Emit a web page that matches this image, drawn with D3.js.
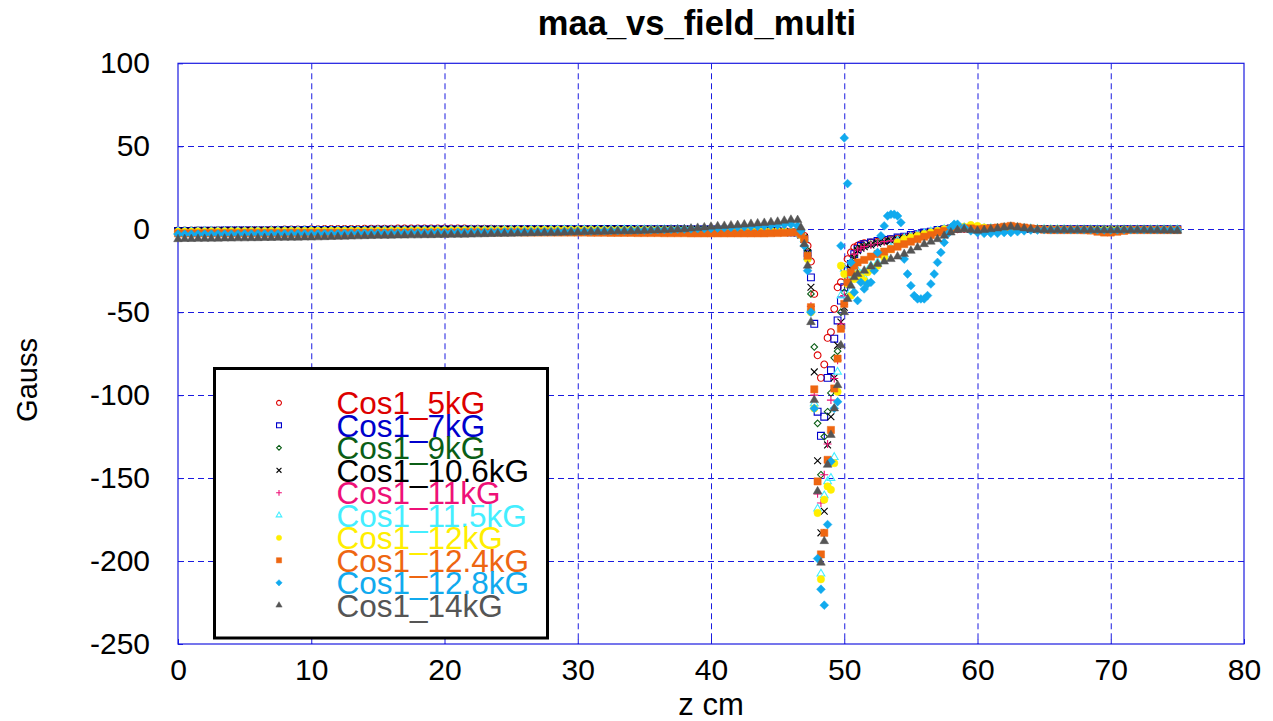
<!DOCTYPE html>
<html>
<head>
<meta charset="utf-8">
<script src="https://cdn.jsdelivr.net/npm/d3@7"></script>
<style>
  body { margin: 0; background: #fff; }
  text { font-family: "Liberation Sans", Arial, sans-serif; }
</style>
</head>
<body>
<svg id="chart" width="1273" height="721"></svg>
<script>
// axis ticks
const xTicks = [0, 10, 20, 30, 40, 50, 60, 70, 80];
const yTicks = [100, 50, 0, -50, -100, -150, -200, -250];

// z positions (cm) of the flat part and of the tail
const zFlat = [0,0.5,1,1.5,2,2.5,3,3.5,4,4.5,5,5.5,6,6.5,7,7.5,8,8.5,9,9.5,10,
  10.5,11,11.5,12,12.5,13,13.5,14,14.5,15,15.5,16,16.5,17,17.5,18,18.5,19,19.5,20,
  20.5,21,21.5,22,22.5,23,23.5,24,24.5,25,25.5,26,26.5,27,27.5,28,28.5,29,29.5,30,
  30.5,31,31.5,32,32.5,33,33.5,34,34.5,35,
  35.5,36,36.5,37,37.5,38,38.5,39,39.5,40,
  40.5,41,41.5,42,42.5,43,43.5,44,
  44.5,45,45.5,46];
const zTail = [59,59.5,60,60.5,61,61.5,62,62.5,63,63.5,64,64.5,65,65.5,66,66.5,67,67.5,
  68,68.5,69,69.5,70,70.5,71,71.5,72,72.5,73,73.5,74,74.5,75];

// Cos1_5kG
const cos5Flat = [-0.8,-0.8,-0.8,-0.7,-0.7,-0.7,-0.6,-0.6,-0.6,-0.5,-0.5,-0.5,-0.4,-0.4,-0.3,-0.3,-0.2,-0.2,-0.1,-0.1,0.0,
  0.0,0.1,0.1,0.1,0.2,0.2,0.2,0.3,0.3,0.3,0.3,0.3,0.4,0.4,0.4,0.4,0.4,0.4,0.4,0.4,
  0.4,0.4,0.4,0.3,0.3,0.3,0.3,0.2,0.2,0.2,0.2,0.1,0.1,0.1,0.1,0.1,0.0,0.0,0.0,0.0,
  0.0,0.1,0.0,0.0,-0.1,0.0,0.0,0.1,0.0,0.0,
  0.0,0.0,-0.1,0.0,0.0,0.0,-0.1,-0.1,0.0,0.0,
  -0.1,-0.2,-0.2,-0.3,-0.3,-0.4,-0.5,-0.6,
  -0.8,-1.0,-1.2,-1.5];
const cos5Dip = [[46.5,-1.8],[46.75,-2.5],[47,-4],[47.25,-10],[47.5,-19.5],[47.75,-39],[48,-76],[48.25,-89.6],
  [48.5,-81.5],[48.75,-65.5],[49,-62],[49.25,-48],[49.5,-35],[49.75,-32],[50,-24],[50.25,-18],[50.5,-14],
  [50.75,-11],[51,-10],[51.25,-9],[51.5,-8.5],[52,-8],[52.5,-7.5],[53,-7],[53.5,-6],[54,-5.5],[54.5,-5],
  [55,-4],[55.5,-3.5],[56,-2.5],[56.5,-2],[57,-1],[57.5,-0.5],[58,0],[58.5,0]];
const cos5Tail = [0.3,0.3,0.2,0.2,0.3,0.5,0.6,0.6,0.5,0.3,0.2,0.1,0,0,0,0,0,0,0,-0.1,-0.1,0,0,0,0,0,0,-0.1,-0.1,-0.1,0,0,0];

// Cos1_7kG
const cos7Flat = [-1.0,-1.0,-1.0,-0.9,-0.9,-0.9,-0.9,-0.8,-0.8,-0.8,-0.8,-0.7,-0.7,-0.7,-0.7,-0.6,-0.6,-0.6,-0.6,-0.5,-0.5,
  -0.5,-0.5,-0.5,-0.4,-0.4,-0.4,-0.4,-0.4,-0.3,-0.3,-0.3,-0.3,-0.3,-0.3,-0.3,-0.2,-0.2,-0.2,-0.2,-0.2,
  -0.2,-0.2,-0.2,-0.1,-0.1,-0.1,-0.1,-0.1,-0.1,-0.1,0.0,0.0,0.0,0.0,0.0,0.0,0.0,0.0,0.0,0.0,
  0.0,0.0,0.1,0.1,0.1,0.1,0.1,0.1,0.0,0.0,
  0.0,0.0,0.0,0.0,0.0,-0.1,-0.1,-0.1,-0.2,-0.2,
  -0.3,-0.3,-0.4,-0.4,-0.5,-0.6,-0.7,-0.8,
  -1.0,-1.2,-1.5,-1.9];
const cos7Dip = [[46.5,-2],[46.75,-3],[47,-6],[47.25,-14.7],[47.5,-29],[47.75,-57],[48,-110],[48.25,-124.5],
  [48.5,-113],[48.75,-89.6],[49,-85],[49.25,-66],[49.5,-55],[49.75,-43],[50,-35],[50.25,-25],[50.5,-21],
  [50.75,-15],[51,-12],[51.25,-10],[51.5,-9],[52,-8],[52.5,-7],[53,-6.5],[53.5,-6],[54,-5],[54.5,-4.5],
  [55,-3.5],[55.5,-3],[56,-2],[56.5,-1.5],[57,-0.5],[57.5,0],[58,0.5],[58.5,0.5]];
const cos7Tail = [0.5,0.4,0.3,0.3,0.4,0.5,0.7,0.7,0.6,0.4,0.2,0.1,0.1,0,0,0,0,0,0,0,0,-0.1,-0.1,-0.1,0,0,0,0,0,0,0,0,0];

// Cos1_9kG
const cos9Flat = [-1.2,-1.2,-1.1,-1.1,-1.1,-1.0,-1.0,-1.0,-1.0,-0.9,-0.9,-0.9,-0.8,-0.8,-0.8,-0.8,-0.7,-0.7,-0.7,-0.6,-0.6,
  -0.6,-0.6,-0.5,-0.5,-0.5,-0.5,-0.4,-0.4,-0.4,-0.4,-0.4,-0.3,-0.3,-0.3,-0.3,-0.3,-0.2,-0.2,-0.2,-0.2,
  -0.2,-0.2,-0.2,-0.2,-0.1,-0.1,-0.1,-0.1,-0.1,-0.1,-0.1,-0.1,0.0,0.0,0.0,0.0,0.0,0.0,0.0,0.0,
  0.0,0.0,0.1,0.0,0.0,0.0,0.1,0.0,0.0,0.0,
  0.0,-0.1,0.0,-0.1,-0.1,-0.1,-0.1,-0.2,-0.2,-0.2,
  -0.3,-0.3,-0.4,-0.5,-0.5,-0.6,-0.7,-0.9,
  -1.1,-1.3,-1.6,-2.0];
const cos9Dip = [[46.5,-2],[46.75,-3],[47,-5],[47.25,-13],[47.5,-39],[47.75,-71],[48,-117],[48.25,-148],
  [48.5,-125],[48.75,-110],[49,-98.7],[49.25,-77.5],[49.5,-73.5],[49.75,-50],[50,-38],[50.25,-30],[50.5,-22],
  [50.75,-16],[51,-12],[51.25,-11],[51.5,-10],[52,-9],[52.5,-8],[53,-7],[53.5,-6.5],[54,-6],[54.5,-5],
  [55,-4.5],[55.5,-3.5],[56,-2.5],[56.5,-2],[57,-1],[57.5,-0.5],[58,0],[58.5,0.5]];
const cos9Tail = [0.3,0.2,0.2,0.1,0.2,0.4,0.6,0.8,0.6,0.4,0.2,0,0,0,-0.1,-0.1,-0.1,-0.1,-0.1,-0.1,-0.2,-0.2,-0.2,-0.2,-0.1,-0.1,-0.1,-0.1,-0.1,-0.1,-0.1,-0.1,-0.1];

// Cos1_10.6kG
const cos106Flat = [-1.1,-1.1,-1.1,-1.0,-1.0,-1.0,-1.0,-0.9,-0.9,-0.9,-0.9,-0.8,-0.8,-0.8,-0.8,-0.7,-0.7,-0.7,-0.7,-0.6,-0.6,
  -0.6,-0.6,-0.6,-0.5,-0.5,-0.5,-0.5,-0.5,-0.4,-0.4,-0.4,-0.4,-0.4,-0.3,-0.3,-0.3,-0.3,-0.3,-0.3,-0.2,
  -0.2,-0.2,-0.2,-0.2,-0.2,-0.1,-0.1,-0.1,-0.1,-0.1,-0.1,-0.1,-0.1,0.0,0.0,0.0,0.0,0.0,0.0,0.0,
  0.0,0.0,0.0,0.1,0.1,0.1,0.0,0.0,0.0,0.0,
  0.0,0.0,0.0,-0.1,-0.1,-0.1,-0.1,-0.2,-0.2,-0.2,
  -0.3,-0.3,-0.4,-0.5,-0.6,-0.6,-0.8,-0.9,
  -1.1,-1.4,-1.7,-2.1];
const cos106Dip = [[46.5,-2],[46.75,-3.5],[47,-5],[47.25,-14],[47.5,-35],[47.75,-86],[48,-139.5],[48.25,-183],
  [48.5,-170],[48.75,-130],[49,-113],[49.25,-89.6],[49.5,-70],[49.75,-56],[50,-47],[50.25,-33],[50.5,-24],
  [50.75,-17],[51,-13],[51.25,-11.5],[51.5,-10.5],[52,-9.5],[52.5,-8.5],[53,-7.5],[53.5,-7],[54,-6],[54.5,-5.5],
  [55,-4.5],[55.5,-4],[56,-3],[56.5,-2],[57,-1.5],[57.5,-0.5],[58,0],[58.5,0.5]];
const cos106Tail = [0.4,0.2,0,0,0.2,0.5,0.8,1,0.8,0.5,0.2,0,-0.1,-0.1,-0.2,-0.2,-0.2,-0.2,-0.2,-0.2,-0.3,-0.3,-0.3,-0.3,-0.2,-0.2,-0.2,-0.2,-0.2,-0.2,-0.2,-0.2,-0.3];

// Cos1_11kG
const cos11Flat = [-1.1,-1.1,-1.0,-1.0,-1.0,-1.0,-0.9,-0.9,-0.9,-0.9,-0.8,-0.8,-0.8,-0.8,-0.7,-0.7,-0.7,-0.7,-0.6,-0.6,-0.6,
  -0.6,-0.5,-0.5,-0.5,-0.5,-0.5,-0.4,-0.4,-0.4,-0.4,-0.4,-0.3,-0.3,-0.3,-0.3,-0.3,-0.3,-0.2,-0.2,-0.2,
  -0.2,-0.2,-0.2,-0.2,-0.1,-0.1,-0.1,-0.1,-0.1,-0.1,-0.1,-0.1,-0.1,0.0,0.0,0.0,0.0,0.0,0.0,0.0,
  0.0,0.0,0.0,0.0,0.1,0.0,0.0,0.0,0.0,0.0,
  0.0,0.0,-0.1,-0.1,-0.1,-0.1,-0.1,-0.2,-0.2,-0.2,
  -0.3,-0.3,-0.4,-0.5,-0.5,-0.6,-0.7,-0.9,
  -1.1,-1.3,-1.6,-2.0];
const cos11Dip = [[46.5,-2],[46.75,-3.5],[47,-6],[47.25,-18],[47.5,-46.5],[47.75,-100],[48,-159.5],[48.25,-165],
  [48.5,-148],[48.75,-129.5],[49,-103],[49.25,-90],[49.5,-79],[49.75,-57],[50,-40],[50.25,-28],[50.5,-20],
  [50.75,-15],[51,-12.5],[51.25,-11.5],[51.5,-10.5],[52,-9.5],[52.5,-8.5],[53,-7.5],[53.5,-7],[54,-6],[54.5,-5.5],
  [55,-4.5],[55.5,-4],[56,-3],[56.5,-2],[57,-1.5],[57.5,-0.5],[58,0],[58.5,0.5]];
const cos11Tail = [0.4,0.3,0,0,0.2,0.5,0.8,1,0.8,0.5,0.2,0,-0.1,-0.1,-0.2,-0.2,-0.2,-0.2,-0.2,-0.3,-0.3,-0.3,-0.3,-0.3,-0.2,-0.2,-0.2,-0.2,-0.2,-0.2,-0.2,-0.3,-0.3];

// Cos1_11.5kG
const cos115Flat = [-1.3,-1.3,-1.3,-1.3,-1.2,-1.2,-1.2,-1.2,-1.2,-1.1,-1.1,-1.1,-1.1,-1.1,-1.0,-1.0,-1.0,-1.0,-1.0,-0.9,-0.9,
  -0.9,-0.9,-0.9,-0.9,-0.8,-0.8,-0.8,-0.8,-0.8,-0.7,-0.7,-0.7,-0.7,-0.7,-0.7,-0.6,-0.6,-0.6,-0.6,-0.6,
  -0.6,-0.6,-0.5,-0.5,-0.5,-0.5,-0.5,-0.5,-0.4,-0.4,-0.4,-0.4,-0.4,-0.4,-0.4,-0.3,-0.3,-0.3,-0.3,-0.3,
  -0.3,-0.3,-0.3,-0.3,-0.3,-0.2,-0.2,-0.2,-0.2,-0.2,
  -0.2,-0.2,-0.2,-0.2,-0.2,-0.2,-0.3,-0.3,-0.3,-0.3,
  -0.4,-0.4,-0.5,-0.5,-0.6,-0.7,-0.8,-0.9,
  -1.0,-1.2,-1.5,-1.8];
const cos115Dip = [[46.5,-2],[46.75,-3.5],[47,-6],[47.25,-17],[47.5,-48],[47.75,-105],[48,-168.5],[48.25,-207.7],
  [48.5,-160.5],[48.75,-152],[49,-150],[49.25,-137.4],[49.5,-86],[49.75,-40],[50,-24],[50.25,-30],[50.5,-37],
  [50.75,-28],[51,-25],[51.25,-27],[51.5,-29],[51.75,-25],[52,-22],[52.5,-20],[53,-15],[53.5,-11],[54,-7],
  [54.5,-5.5],[55,-4.5],[55.5,-3.5],[56,-2.5],[56.5,-1.5],[57,-1],[57.5,0],[58,0.5],[58.5,1]];
const cos115Tail = [1,1.5,1,0.5,0.5,0.5,0.8,1,0.8,0.5,0.3,0,0,-0.1,-0.1,-0.1,-0.2,-0.2,-0.2,-0.2,-0.3,-0.3,-0.3,-0.3,-0.2,-0.2,-0.2,-0.2,-0.2,-0.2,-0.2,-0.2,-0.2];

// Cos1_12kG
const cos12Flat = [-1.5,-1.5,-1.5,-1.4,-1.5,-1.4,-1.4,-1.4,-1.3,-1.4,-1.3,-1.3,-1.3,-1.3,-1.2,-1.3,-1.2,-1.2,-1.2,-1.2,-1.1,
  -1.1,-1.1,-1.1,-1.0,-1.1,-1.0,-1.0,-1.0,-1.0,-0.9,-1.0,-0.9,-0.9,-0.9,-0.9,-0.8,-0.9,-0.8,-0.8,-0.8,
  -0.8,-0.8,-0.7,-0.8,-0.7,-0.7,-0.7,-0.7,-0.6,-0.7,-0.6,-0.6,-0.6,-0.6,-0.5,-0.6,-0.5,-0.5,-0.5,-0.5,
  -0.5,-0.4,-0.5,-0.4,-0.4,-0.4,-0.4,-0.3,-0.4,-0.3,
  -0.3,-0.3,-0.3,-0.3,-0.3,-0.3,-0.3,-0.4,-0.4,-0.4,
  -0.5,-0.5,-0.6,-0.6,-0.7,-0.7,-0.8,-0.9,
  -1.0,-1.2,-1.4,-1.7];
const cos12Dip = [[46.5,-2],[46.75,-3.5],[47,-6.5],[47.25,-18],[47.5,-50],[47.75,-108],[48,-171],[48.25,-211],
  [48.5,-163],[48.75,-155],[49,-157],[49.25,-141],[49.5,-98],[49.75,-22],[50,-27],[50.25,-33],[50.5,-40],
  [50.75,-30],[51,-27],[51.25,-29],[51.5,-31],[51.75,-26],[52,-24],[52.25,-24],[52.5,-22],[53,-17],[53.5,-12],
  [54,-8],[54.5,-6],[55,-5],[55.5,-4],[56,-3],[56.5,-2],[57,-1],[57.5,0],[58,0.5],[58.5,1]];
const cos12Tail = [1.5,2.5,2,1,0.5,0.5,0.6,1,1,0.5,0.3,0,0,0,0,-0.1,-0.2,-0.2,-0.2,-0.2,-0.3,-0.3,-0.3,-0.3,-0.2,-0.2,-0.2,-0.2,-0.2,-0.2,-0.2,-0.2,-0.2];

// Cos1_12.4kG
const cos124Flat = [-2.5,-2.5,-2.5,-2.5,-2.4,-2.4,-2.4,-2.4,-2.4,-2.4,-2.3,-2.3,-2.3,-2.3,-2.3,-2.3,-2.3,-2.2,-2.2,-2.2,-2.2,
  -2.2,-2.2,-2.2,-2.2,-2.2,-2.1,-2.1,-2.1,-2.1,-2.1,-2.1,-2.1,-2.1,-2.0,-2.0,-2.0,-2.0,-2.0,-2.0,-2.0,
  -2.0,-2.0,-1.9,-1.9,-1.9,-2.0,-2.0,-2.0,-1.9,-1.9,-1.9,-2.0,-2.0,-2.0,-2.0,-2.0,-2.0,-2.0,-2.0,-2.0,
  -2.0,-2.1,-2.1,-2.1,-2.2,-2.2,-2.2,-2.2,-2.3,-2.3,
  -2.3,-2.3,-2.4,-2.4,-2.4,-2.4,-2.5,-2.5,-2.5,-2.5,
  -2.5,-2.5,-2.5,-2.5,-2.5,-2.5,-2.5,-2.5,
  -2.4,-2.3,-2.2,-2.0];
const cos124Dip = [[46.5,-1.8],[46.75,-3],[47,-6],[47.25,-16],[47.5,-47],[47.75,-96.5],[48,-152],[48.25,-196],
  [48.5,-183],[48.75,-139],[49,-121],[49.25,-96],[49.5,-78],[49.75,-60],[50,-45],[50.25,-32],[50.5,-26],
  [50.75,-22],[51,-20],[51.5,-18.5],[52,-16.5],[52.5,-15],[53,-13.5],[53.5,-12],[54,-10.5],[54.5,-9],
  [55,-7.5],[55.5,-6],[56,-4.5],[56.5,-3.5],[57,-2],[57.5,-1],[58,0],[58.5,0.5]];
const cos124Tail = [0.5,0.5,0,0.3,0.5,1,1.5,2,1.5,1,0.5,0,-0.3,-0.5,-0.5,-0.5,-0.5,-0.5,-0.6,-0.8,-1.5,-2,-2,-1.5,-1,-0.5,-0.5,-0.5,-0.5,-0.5,-0.5,-0.5,-0.5];

// Cos1_12.8kG
const cos128Flat = [-3.0,-3.0,-3.0,-3.0,-2.9,-2.9,-2.9,-2.9,-2.9,-2.9,-2.8,-2.8,-2.8,-2.8,-2.8,-2.8,-2.7,-2.7,-2.7,-2.7,-2.7,
  -2.7,-2.6,-2.6,-2.6,-2.5,-2.5,-2.5,-2.4,-2.4,-2.4,-2.3,-2.3,-2.3,-2.2,-2.2,-2.2,-2.1,-2.1,-2.0,-2.0,
  -2.0,-1.9,-1.9,-1.8,-1.8,-1.8,-1.7,-1.7,-1.6,-1.6,-1.6,-1.5,-1.5,-1.4,-1.4,-1.4,-1.3,-1.3,-1.2,-1.2,
  -1.1,-1.1,-1.0,-0.9,-0.8,-0.8,-0.7,-0.6,-0.6,-0.5,
  -0.4,-0.3,-0.2,-0.1,0.0,0.1,0.2,0.3,0.4,0.5,
  0.7,0.9,1.1,1.3,1.5,1.7,1.8,2.0,
  2.3,2.5,2.8,3.0];
const cos128Dip = [[46.5,2],[46.75,-1],[47,-10],[47.25,-25],[47.5,-50],[47.75,-108],[48,-198.5],[48.25,-217],
  [48.5,-226.6],[48.75,-178],[49,-140],[49.25,-108],[49.5,-104],[49.75,-10],[50,55],[50.25,27.5],[50.5,-20],
  [50.75,-38],[51,-43],[51.25,-32],[51.5,-36],[51.75,-33],[52,-32],[52.25,-25],[52.5,-14],[52.75,-4],[53,2],
  [53.25,8],[53.5,9],[53.75,9],[54,8],[54.25,4],[54.5,-18],[54.75,-27],[55,-34],[55.25,-40],[55.5,-42],
  [55.75,-42],[56,-42],[56.25,-40],[56.5,-33],[56.75,-27],[57,-20],[57.25,-14],[57.5,-8],[57.75,-3],[58,1],
  [58.25,3],[58.5,3]];
const cos128Tail = [1,-1,-2,-2.5,-2.5,-2.5,-2,-2,-1.5,-1,-0.5,-0.5,-0.3,-0.3,-0.3,-0.3,-0.3,-0.3,-0.3,-0.3,-0.4,-0.4,-0.4,-0.4,-0.3,-0.3,-0.3,-0.3,-0.3,-0.3,-0.3,-0.3,-0.3];

// Cos1_14kG
const cos14Flat = [-6.0,-5.9,-5.9,-5.8,-5.8,-5.7,-5.7,-5.6,-5.6,-5.5,-5.5,
  -5.4,-5.4,-5.3,-5.3,-5.2,-5.2,-5.1,-5.1,-5.0,-5.0,
  -4.9,-4.8,-4.7,-4.6,-4.5,-4.4,-4.3,-4.2,-4.1,-4.0,
  -4.0,-3.9,-3.8,-3.8,-3.7,-3.7,-3.6,-3.6,-3.5,-3.5,
  -3.4,-3.3,-3.3,-3.2,-3.1,-3.0,-2.9,-2.8,-2.8,-2.7,
  -2.6,-2.5,-2.4,-2.3,-2.2,-2.2,-2.1,-2.0,-1.9,-1.8,
  -1.7,-1.6,-1.6,-1.5,-1.4,-1.3,-1.2,-1.2,-1.1,-1.0,
  -0.8,-0.7,-0.5,-0.3,-0.2,0.0,
  0.4,0.8,1.1,1.5,
  1.8,2.0,2.3,2.5,
  2.8,3.2,3.5,3.8,
  4.2,4.5,5.1,5.7];
const cos14Dip = [[46.5,5.5],[46.75,1],[47,-9],[47.25,-22],[47.5,-56],[47.75,-103],[48,-158],[48.25,-201],
  [48.5,-188],[48.75,-142],[49,-124],[49.25,-108],[49.5,-94],[49.75,-70],[50,-50],[50.25,-42],[50.5,-34],
  [50.75,-29],[51,-27],[51.5,-25],[52,-22.5],[52.5,-21],[53,-19.5],[53.5,-18],[54,-16.5],[54.5,-15],
  [55,-13],[55.5,-11],[56,-9],[56.5,-7.5],[57,-6],[57.5,-4],[58,-2],[58.5,-0.5]];
const cos14Tail = [0,-0.5,-1,-0.5,0,0.5,1,1.5,1,0.5,0,-0.3,-0.5,-0.5,-0.5,-0.5,-0.5,-0.5,-0.5,-0.5,-0.6,-0.6,-0.6,-0.6,-0.5,-0.5,-0.5,-0.5,-0.6,-0.6,-0.7,-0.8,-1.0];

const seriesNames = ['Cos1_5kG', 'Cos1_7kG', 'Cos1_9kG', 'Cos1_10.6kG', 'Cos1_11kG',
  'Cos1_11.5kG', 'Cos1_12kG', 'Cos1_12.4kG', 'Cos1_12.8kG', 'Cos1_14kG'];
const seriesColors = ['#dd0000', '#0000cc', '#0b5e16', '#000000', '#ee1177',
  '#44eeff', '#ffee00', '#ee6611', '#11aaee', '#555555'];
const seriesFlat = [cos5Flat, cos7Flat, cos9Flat, cos106Flat, cos11Flat, cos115Flat, cos12Flat, cos124Flat, cos128Flat, cos14Flat];
const seriesDip = [cos5Dip, cos7Dip, cos9Dip, cos106Dip, cos11Dip, cos115Dip, cos12Dip, cos124Dip, cos128Dip, cos14Dip];
const seriesTail = [cos5Tail, cos7Tail, cos9Tail, cos106Tail, cos11Tail, cos115Tail, cos12Tail, cos124Tail, cos128Tail, cos14Tail];

// marker look per series
const markers = [
  { shape: 'circle', s: 3.4, fill: false },
  { shape: 'square', s: 3.4, fill: false },
  { shape: 'diamond', s: 3.3, fill: false },
  { shape: 'times', s: 3.4, fill: false },
  { shape: 'plus', s: 4, fill: false },
  { shape: 'triangle', s: 4.5, fill: false },
  { shape: 'circle', s: 3.7, fill: true },
  { shape: 'square', s: 3.6, fill: true },
  { shape: 'diamond', s: 4.4, fill: true },
  { shape: 'triangle', s: 5, fill: true }
];

function markerPath(shape, s) {
  switch (shape) {
    case 'circle': return `M${s},0A${s},${s} 0 1,1 ${-s},0A${s},${s} 0 1,1 ${s},0Z`;
    case 'square': return `M${-s},${-s}H${s}V${s}H${-s}Z`;
    case 'diamond': return `M0,${-s}L${s},0L0,${s}L${-s},0Z`;
    case 'times': return `M${-s},${-s}L${s},${s}M${-s},${s}L${s},${-s}`;
    case 'plus': return `M${-s},0H${s}M0,${-s}V${s}`;
    case 'triangle': return `M0,${-s}L${s * 0.866},${s * 0.5}L${-s * 0.866},${s * 0.5}Z`;
  }
}

const svg = d3.select('#chart');
const x = d3.scaleLinear().domain([0, 80]).range([178, 1244]);
const y = d3.scaleLinear().domain([-250, 100]).range([644, 63.3]);
const gridColor = '#1a1ae0';

svg.append('rect').attr('width', 1273).attr('height', 721).attr('fill', '#fff');

// grid
const grid = svg.append('g').attr('stroke', gridColor).attr('stroke-width', 1).attr('stroke-dasharray', '6,4');
grid.selectAll('.gx').data(xTicks.slice(1, -1)).enter().append('line')
  .attr('x1', d => x(d) + 0.5).attr('x2', d => x(d) + 0.5)
  .attr('y1', y(100)).attr('y2', y(-250));
grid.selectAll('.gy').data(yTicks.slice(1, -1)).enter().append('line')
  .attr('y1', d => Math.round(y(d)) + 0.5).attr('y2', d => Math.round(y(d)) + 0.5)
  .attr('x1', x(0)).attr('x2', x(80));

// axes (plain hyphen minus like the original)
const xAxis = d3.axisBottom(x).tickValues(xTicks).tickFormat(d => String(d))
  .tickSizeInner(-5).tickSizeOuter(0).tickPadding(15);
const yAxis = d3.axisLeft(y).tickValues(yTicks).tickFormat(d => String(d))
  .tickSizeInner(-5).tickSizeOuter(0).tickPadding(28);
const gx = svg.append('g').attr('transform', `translate(0,${y(-250)})`).call(xAxis);
const gy = svg.append('g').attr('transform', `translate(${x(0)},0)`).call(yAxis);
[gx, gy].forEach(g => {
  g.select('.domain').remove();
  g.selectAll('line').attr('stroke', gridColor);
  g.selectAll('text').attr('font-size', 30).attr('fill', '#000')
    .style('font-family', '"Liberation Sans", Arial, sans-serif');
});

// frame
svg.append('rect')
  .attr('x', x(0)).attr('y', y(100))
  .attr('width', x(80) - x(0)).attr('height', y(-250) - y(100))
  .attr('fill', 'none').attr('stroke', gridColor).attr('stroke-width', 1.2);

// points
const plot = svg.append('g');
seriesNames.forEach((name, i) => {
  const pts = zFlat.map((z, j) => [z, seriesFlat[i][j]])
    .concat(seriesDip[i])
    .concat(zTail.map((z, j) => [z, seriesTail[i][j]]))
    .filter(p => p[1] !== undefined);
  const m = markers[i];
  plot.append('g').selectAll('path').data(pts).enter().append('path')
    .attr('transform', d => `translate(${x(d[0])},${y(d[1])})`)
    .attr('d', markerPath(m.shape, m.s))
    .attr('fill', m.fill ? seriesColors[i] : 'none')
    .attr('stroke', seriesColors[i])
    .attr('stroke-width', m.fill ? 0.5 : 1.1);
});

// legend
const legend = svg.append('g');
legend.append('rect')
  .attr('x', 214.5).attr('y', 368.5).attr('width', 333).attr('height', 269.5)
  .attr('fill', '#fff').attr('stroke', '#000').attr('stroke-width', 3);
seriesNames.forEach((name, i) => {
  const base = 414.3 + i * 22.5;
  const m = markers[i];
  legend.append('path')
    .attr('transform', `translate(279,${base - 11.5})`)
    .attr('d', markerPath(m.shape, m.s * 0.72))
    .attr('fill', m.fill ? seriesColors[i] : 'none')
    .attr('stroke', seriesColors[i])
    .attr('stroke-width', m.fill ? 0.5 : 1.1);
  legend.append('text')
    .attr('x', 336.5).attr('y', base)
    .attr('font-size', 31.5).attr('fill', seriesColors[i])
    .text(name);
});

// titles
svg.append('text').attr('x', 697).attr('y', 35).attr('text-anchor', 'middle')
  .attr('font-size', 34.5).attr('font-weight', 'bold').text('maa_vs_field_multi');
svg.append('text').attr('x', 711).attr('y', 715).attr('text-anchor', 'middle')
  .attr('font-size', 31).text('z cm');
svg.append('text').attr('transform', 'translate(37,380) rotate(-90)').attr('text-anchor', 'middle')
  .attr('font-size', 29).text('Gauss');
</script>
</body>
</html>
